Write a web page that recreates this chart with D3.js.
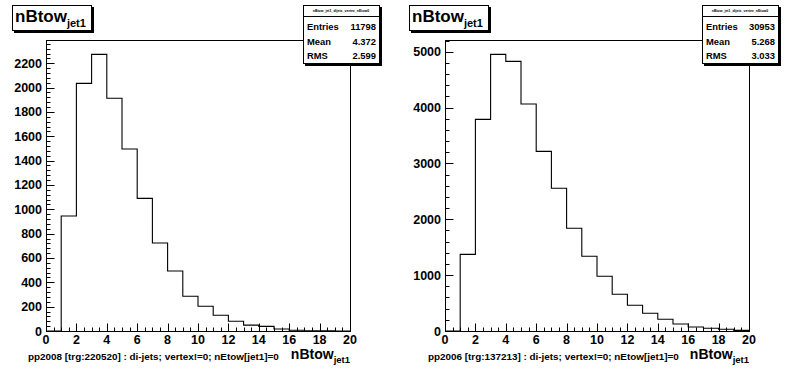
<!DOCTYPE html>
<html>
<head>
<meta charset="utf-8">
<script src="https://cdn.jsdelivr.net/npm/d3@7"></script>
<style>
  html, body { margin: 0; padding: 0; background: #fff; }
  svg { display: block; }
  text { font-family: "Liberation Sans", Arial, Helvetica, sans-serif; font-weight: bold; fill: #000; }
</style>
</head>
<body>
<svg id="chart" width="796" height="372"></svg>
<script>
// ---- data ----
const binLow = [0,1,2,3,4,5,6,7,8,9,10,11,12,13,14,15,16,17,18,19];
const binWidth = 1;
const countsLeft  = [0,945,2035,2273,1912,1495,1090,723,493,285,203,129,80,48,38,16,6,2,1,0];
const countsRight = [0,1372,3789,4952,4827,4063,3216,2554,1838,1337,979,657,460,317,209,125,72,48,30,12];
const xTickLabels = [0,2,4,6,8,10,12,14,16,18,20];
const yTicksLeft  = [0,200,400,600,800,1000,1200,1400,1600,1800,2000,2200];
const yTicksRight = [0,1000,2000,3000,4000,5000];
const statsLeft  = {entries: "11798", mean: "4.372", rms: "2.599"};
const statsRight = {entries: "30953", mean: "5.268", rms: "3.033"};
const footerLeft  = "pp2008 [trg:220520] : di-jets; vertex!=0; nEtow[jet1]=0";
const footerRight = "pp2006 [trg:137213] : di-jets; vertex!=0; nEtow[jet1]=0";
const histName = "nBtow_jet1_dijets_vertex_nEtow0";

const svg = d3.select("#chart");

function drawPanel(o) {
  const g = svg.append("g");
  const x = d3.scaleLinear().domain([0, 20]).range([o.x0, o.x1]);
  const y = d3.scaleLinear().domain([0, o.yMax]).range([o.y1, o.y0]);

  // histogram step line
  let pts = [];
  binLow.forEach((b, i) => {
    pts.push([x(b), y(o.counts[i])]);
    pts.push([x(b + binWidth), y(o.counts[i])]);
  });
  let d = "M" + x(0) + "," + y(0);
  pts.forEach(p => { d += "L" + p[0] + "," + p[1]; });
  d += "L" + x(20) + "," + y(0);
  g.append("path").attr("d", d).attr("fill", "none").attr("stroke", "#000").attr("stroke-width", 1.1);

  // frame
  g.append("rect").attr("x", o.x0 + 0.5).attr("y", o.y0 + 0.5)
    .attr("width", o.x1 - o.x0).attr("height", o.y1 - o.y0)
    .attr("fill", "none").attr("stroke", "#000").attr("stroke-width", 1);

  // x ticks (inside, upward)
  const xMinor = d3.range(0, 20.001, 0.5);
  g.selectAll(null).data(xMinor).enter().append("line")
    .attr("x1", v => Math.round(x(v)) + 0.5).attr("x2", v => Math.round(x(v)) + 0.5)
    .attr("y1", o.y1 + 0.5)
    .attr("y2", v => o.y1 + 0.5 - (Math.abs(v % 2) < 1e-6 ? 8 : 4))
    .attr("stroke", "#000").attr("stroke-width", 1);
  g.selectAll(null).data(xTickLabels).enter().append("text")
    .attr("x", v => x(v)).attr("y", o.y1 + 13)
    .attr("text-anchor", "middle").attr("font-size", 12.5)
    .text(v => v);

  // y ticks (inside, rightward)
  const yMinor = d3.range(0, o.yMax, o.yStep / 5);
  g.selectAll(null).data(yMinor).enter().append("line")
    .attr("y1", v => Math.round(y(v)) + 0.5).attr("y2", v => Math.round(y(v)) + 0.5)
    .attr("x1", o.x0 + 0.5)
    .attr("x2", (v, i) => o.x0 + 0.5 + (i % 5 === 0 ? 8 : 4))
    .attr("stroke", "#000").attr("stroke-width", 1);
  g.selectAll(null).data(o.yTicks).enter().append("text")
    .attr("x", o.x0 - 4).attr("y", v => y(v) + 4.5)
    .attr("text-anchor", "end").attr("font-size", 12.5)
    .text(v => v);

  // x axis title
  const xt = g.append("text").attr("x", o.x1).attr("y", o.y1 + 28).attr("text-anchor", "end");
  xt.append("tspan").attr("font-size", 14).text("nBtow");
  xt.append("tspan").attr("font-size", 9.5).attr("dy", 4).text("jet1");

  // footer
  g.append("text").attr("x", o.fx).attr("y", o.y1 + 29).attr("font-size", 9.9).text(o.footer);

  // title box with shadow
  g.append("rect").attr("x", o.tx + 2).attr("y", 7).attr("width", 80).attr("height", 26).attr("fill", "#000");
  g.append("rect").attr("x", o.tx + 0.5).attr("y", 5.5).attr("width", 79).attr("height", 25)
    .attr("fill", "#fff").attr("stroke", "#000").attr("stroke-width", 1);
  const tt = g.append("text").attr("x", o.tx + 3).attr("y", 22);
  tt.append("tspan").attr("font-size", 17).text("nBtow");
  tt.append("tspan").attr("font-size", 11).attr("dy", 5).text("jet1");

  // stats box with shadow
  const sx = o.sx, sw = 76, sy = 5, sh = 58;
  g.append("rect").attr("x", sx + 2).attr("y", sy + 2).attr("width", sw + 1).attr("height", sh + 1).attr("fill", "#000");
  g.append("rect").attr("x", sx + 0.5).attr("y", sy + 0.5).attr("width", sw).attr("height", sh)
    .attr("fill", "#fff").attr("stroke", "#000").attr("stroke-width", 1);
  g.append("line").attr("x1", sx).attr("x2", sx + sw).attr("y1", sy + 11.5).attr("y2", sy + 11.5)
    .attr("stroke", "#000").attr("stroke-width", 1);
  g.append("text").attr("x", sx + sw / 2).attr("y", sy + 7).attr("text-anchor", "middle")
    .attr("font-size", 3.5).attr("font-weight", "normal").text(histName);
  const rows = [["Entries", o.stats.entries], ["Mean", o.stats.mean], ["RMS", o.stats.rms]];
  rows.forEach((r, i) => {
    const yy = sy + 25 + i * 14.5;
    g.append("text").attr("x", sx + 4).attr("y", yy).attr("font-size", 9.4).text(r[0]);
    g.append("text").attr("x", sx + sw - 3).attr("y", yy).attr("font-size", 9.4).attr("text-anchor", "end").text(r[1]);
  });
}

drawPanel({x0: 46, x1: 350, y0: 40, y1: 331, yMax: 2391, yStep: 200, yTicks: yTicksLeft,
  counts: countsLeft, footer: footerLeft, fx: 28, tx: 12, sx: 303, stats: statsLeft});
drawPanel({x0: 445, x1: 749, y0: 40, y1: 331, yMax: 5209, yStep: 1000, yTicks: yTicksRight,
  counts: countsRight, footer: footerRight, fx: 428, tx: 409, sx: 702, stats: statsRight});
</script>
</body>
</html>
